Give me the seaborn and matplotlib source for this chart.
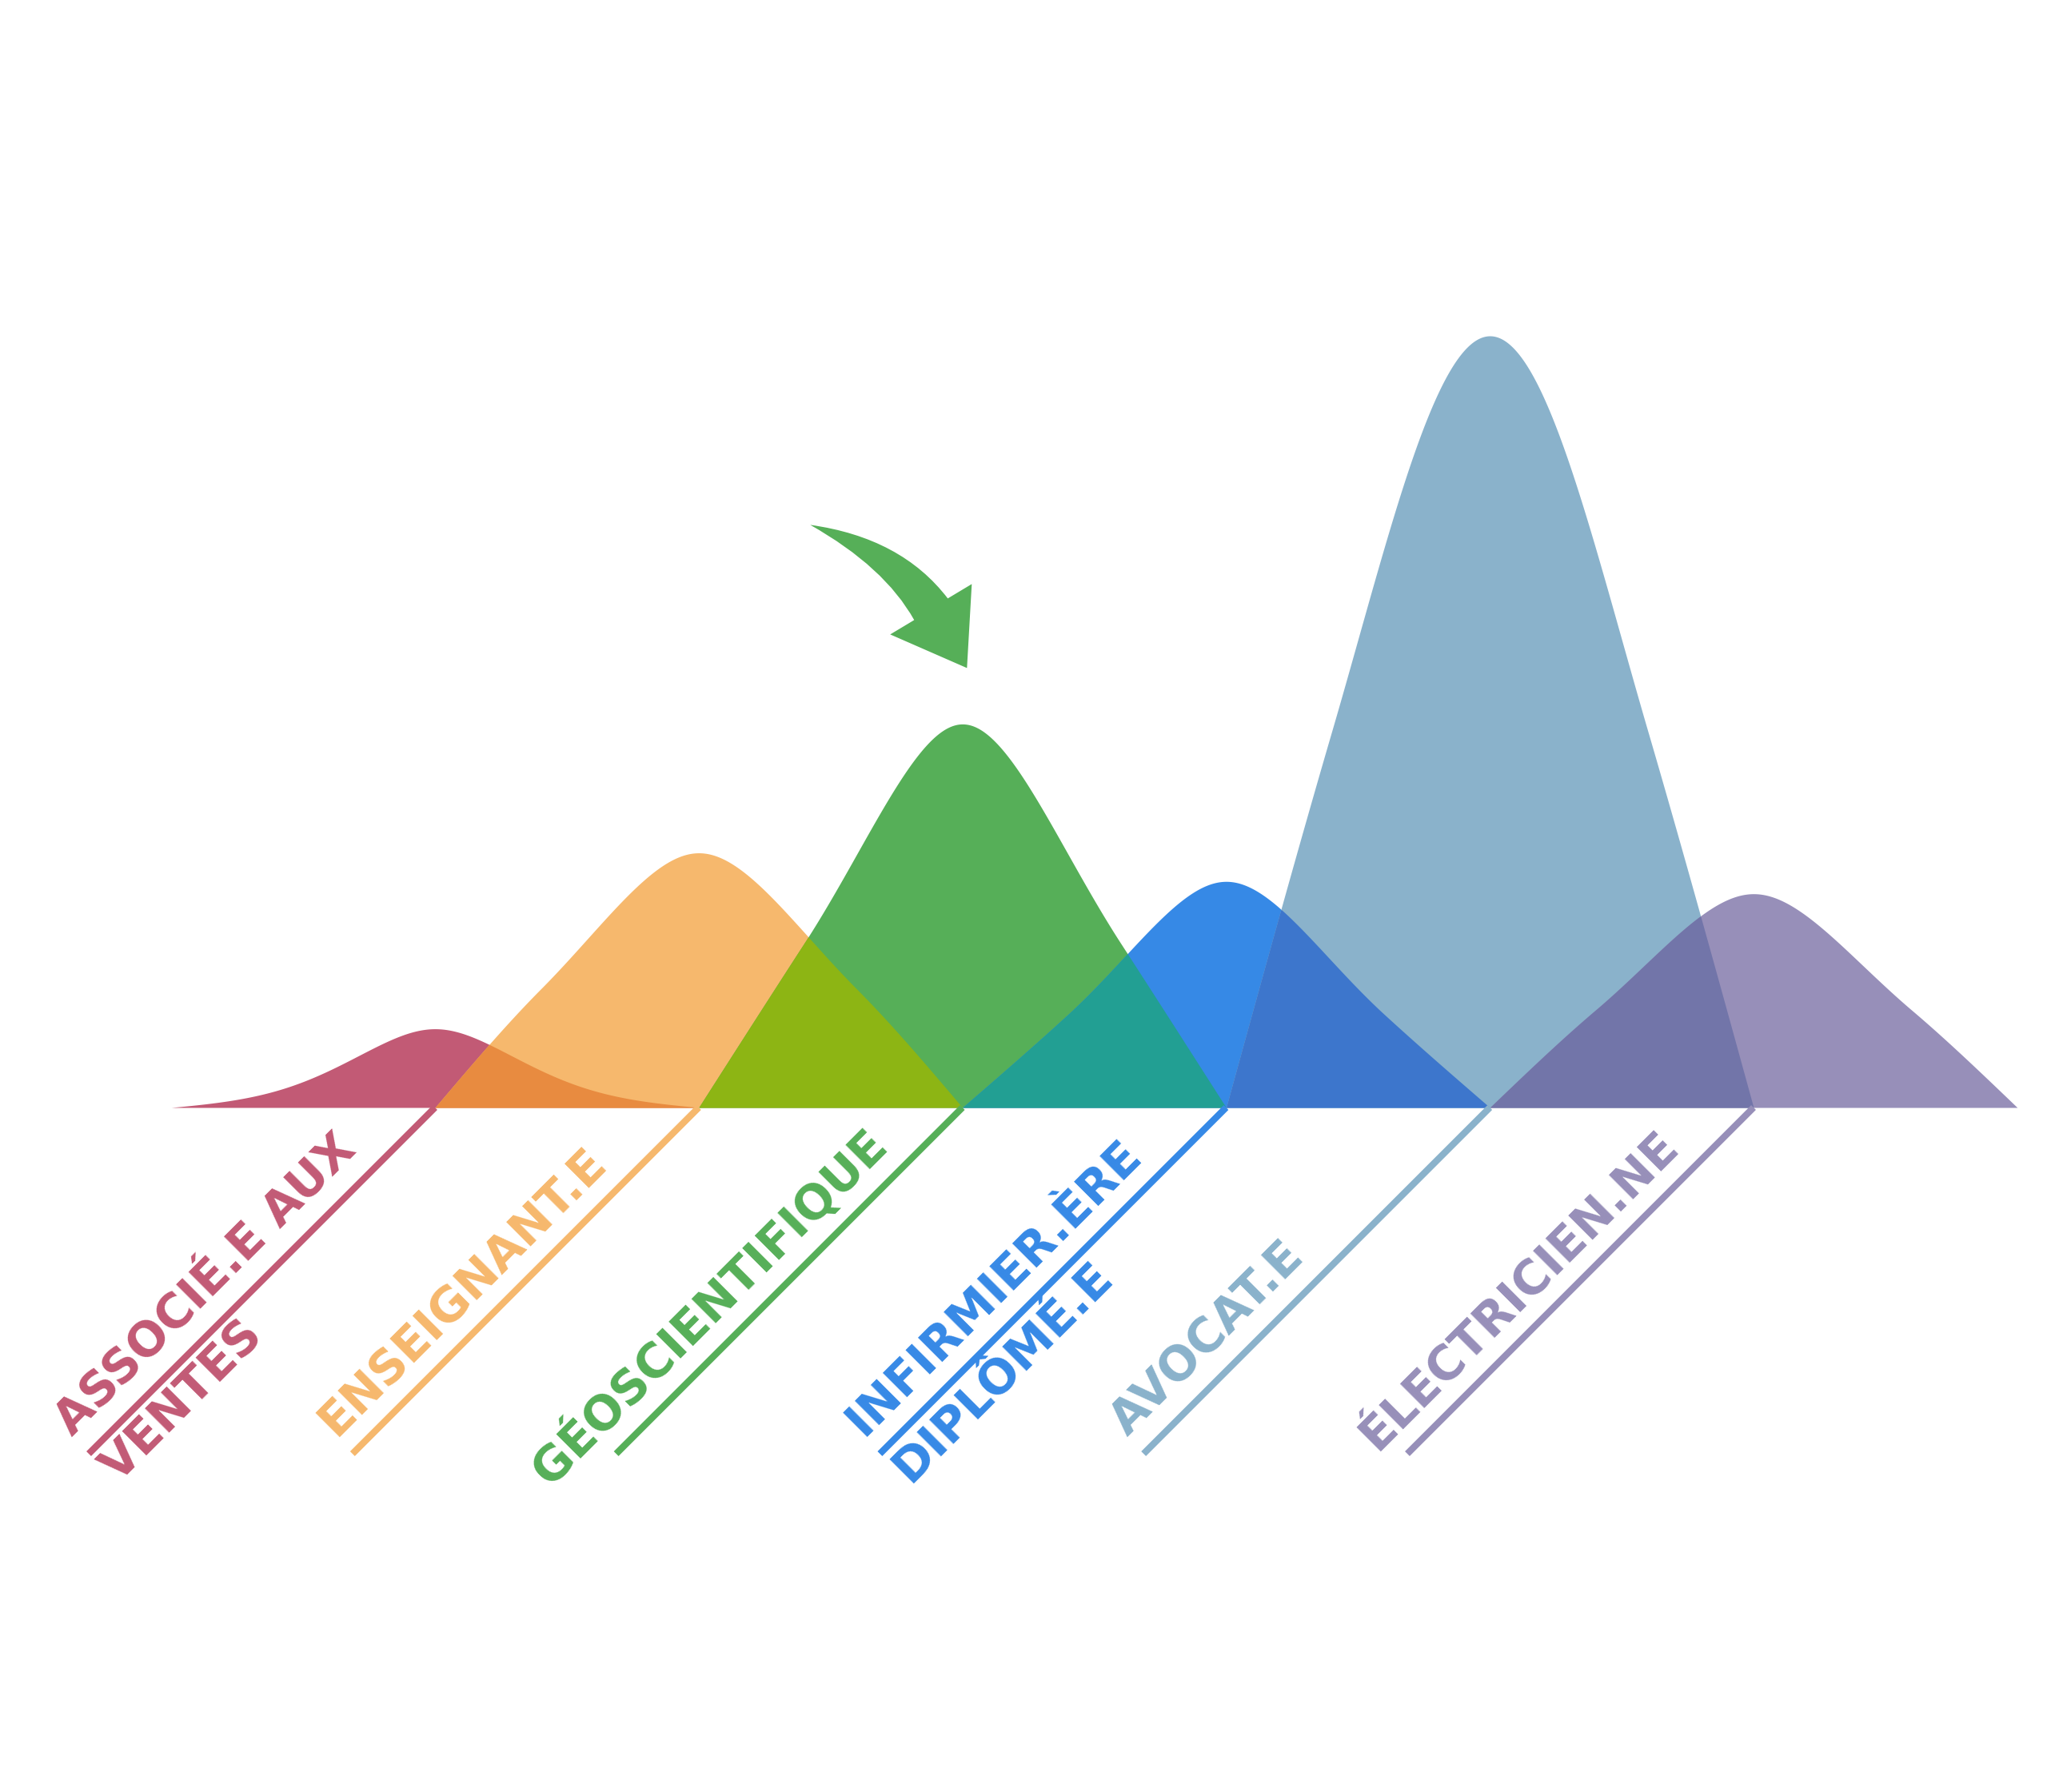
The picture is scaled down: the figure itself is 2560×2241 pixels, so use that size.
import matplotlib
matplotlib.use("Agg")
import matplotlib.pyplot as plt
from matplotlib.font_manager import FontProperties
from matplotlib.path import Path
from matplotlib.patches import PathPatch
import numpy as np
import pandas as pd
import seaborn as sns

# ---- data ----
professions = [
    "ASSOCIÉ.E AUX\nVENTES",
    "ENSEIGNANT.E",
    "GÉOSCIENTIFIQUE",
    "INFIRMIER.ÈRE\nDIPLÔMÉ.E",
    "AVOCAT.E",
    "ÉLECTRICIEN.NE",
]
peak_values = [10.2, 33.0, 49.7, 29.3, 100.0, 27.7]
# bump shape: height * exp(-sharpness * |d| ** power)
sharpness = [3.8, 1.9, 2.1, 2.2, 2.0, 1.95]
power = [1.7, 1.7, 1.7, 1.7, 2.0, 1.7]

colors = ["#C25A75", "#F6B86D", "#56AF58", "#3689E6", "#8AB2CB", "#978FB9"]
overlap_colors = ["#E88B40", "#8DB514", "#229F93", "#3D76CC", "#7275A9"]

# ---- layout (pixels of the 2560x2241 output) ----
W, H, DPI = 2560, 2241, 200
PX_X = 329.8      # px per category step
PX_Y = 9.65       # px per value unit
FIRST_X = 544     # px of first peak from left
BASE_Y = 856      # px of baseline from bottom
LEADER = 433      # leader line extent in px (x and y)
FONT_SIZE = 21.3
ROUND = 0.14      # rounding of the peak tops


def bump(d, k, p):
    # smooth |d| so the tops stay round
    r = (d ** 2 + ROUND ** 2) ** (p / 2) - ROUND ** p
    return np.exp(-k * r)


def profile(d, k, p, cut=0.6):
    # bump down to |d| = cut, then a monotone cubic tail to the baseline at |d| = 1
    d = np.abs(d)
    g = bump(d, k, p)
    y0 = bump(cut, k, p)
    eps = 1e-4
    m0 = (bump(cut + eps, k, p) - bump(cut - eps, k, p)) / (2 * eps)
    h = 1 - cut
    secant = -y0 / h
    m1 = min(0.0, (3 * secant - m0) / 2)
    t = np.clip((d - cut) / h, 0, 1)
    tail = ((2 * t ** 3 - 3 * t ** 2 + 1) * y0
            + (t ** 3 - 2 * t ** 2 + t) * h * m0
            + (t ** 3 - t ** 2) * h * m1)
    return np.where(d <= cut, g, np.maximum(tail, 0))


def px_to_data(dx, dy):
    return dx / PX_X, dy / PX_Y


sns.set_theme(style="white")
plt.rcParams["font.family"] = ["DejaVu Sans"]

fig = plt.figure(figsize=(W / DPI, H / DPI), dpi=DPI)
ax = fig.add_axes([0, 0, 1, 1])
ax.set_xlim(-FIRST_X / PX_X, (W - FIRST_X) / PX_X)
ax.set_ylim(-BASE_Y / PX_Y, (H - BASE_Y) / PX_Y)
ax.axis("off")

# ridges
d = np.linspace(-1, 1, 801)
for i, color in enumerate(colors):
    y = peak_values[i] * profile(d, sharpness[i], power[i])
    ax.fill_between(i + d, 0, y, color=color, linewidth=0, zorder=2)

# overlaps between neighbours
t = np.linspace(0, 1, 401)
for i, color in enumerate(overlap_colors):
    left = peak_values[i] * profile(t, sharpness[i], power[i])
    right = peak_values[i + 1] * profile(1 - t, sharpness[i + 1], power[i + 1])
    ax.fill_between(i + t, 0, np.minimum(left, right), color=color,
                    linewidth=0, zorder=3)

# leader lines
ldx, ldy = px_to_data(LEADER, LEADER)
leaders = pd.DataFrame({
    "x": [v for i in range(len(professions)) for v in (i, i - ldx)],
    "y": [v for _ in professions for v in (0.0, -ldy)],
    "profession": [p for p in professions for _ in range(2)],
})
sns.lineplot(data=leaders, x="x", y="y", hue="profession",
             palette=dict(zip(professions, colors)), estimator=None,
             sort=False, legend=False, linewidth=3.0,
             solid_capstyle="butt", ax=ax, zorder=4)
ax.set_xlabel("")
ax.set_ylabel("")

# labels along the leader lines
renderer = fig.canvas.get_renderer()
prop = FontProperties(family="DejaVu Sans", weight="bold", size=FONT_SIZE)
line_len = LEADER * np.sqrt(2)
for i, (label, color) in enumerate(zip(professions, colors)):
    lines = label.split("\n")
    width, _, _ = renderer.get_text_width_height_descent(lines[0], prop, ismath=False)
    start = min(-line_len, -100 - width)
    for text, off in zip(lines, (29, -53)):
        dx, dy = px_to_data((start - off) / np.sqrt(2), (start + off) / np.sqrt(2))
        ax.text(i + dx, dy, text, rotation=45, rotation_mode="anchor",
                ha="left", va="baseline", color=color, fontproperties=prop,
                zorder=5)

# curved arrow pointing at the green peak
arrow_px = [(-190.3, 249), (-76.3, 233), (-18.3, 157), (11.7, 175), (5.7, 70),
            (-90.3, 112), (-60.3, 130), (-97.3, 196.5), (-190.3, 249), (0, 0)]
codes = [Path.MOVETO, Path.CURVE3, Path.CURVE3, Path.LINETO, Path.LINETO,
         Path.LINETO, Path.LINETO, Path.CURVE3, Path.CURVE3, Path.CLOSEPOLY]
verts = [(2 + px_to_data(x, y)[0], peak_values[2] + px_to_data(x, y)[1])
         for x, y in arrow_px]
ax.add_patch(PathPatch(Path(verts, codes), facecolor=colors[2],
                       edgecolor="none", zorder=5))

fig.savefig("out.png", dpi=DPI, facecolor="white")
plt.close(fig)
